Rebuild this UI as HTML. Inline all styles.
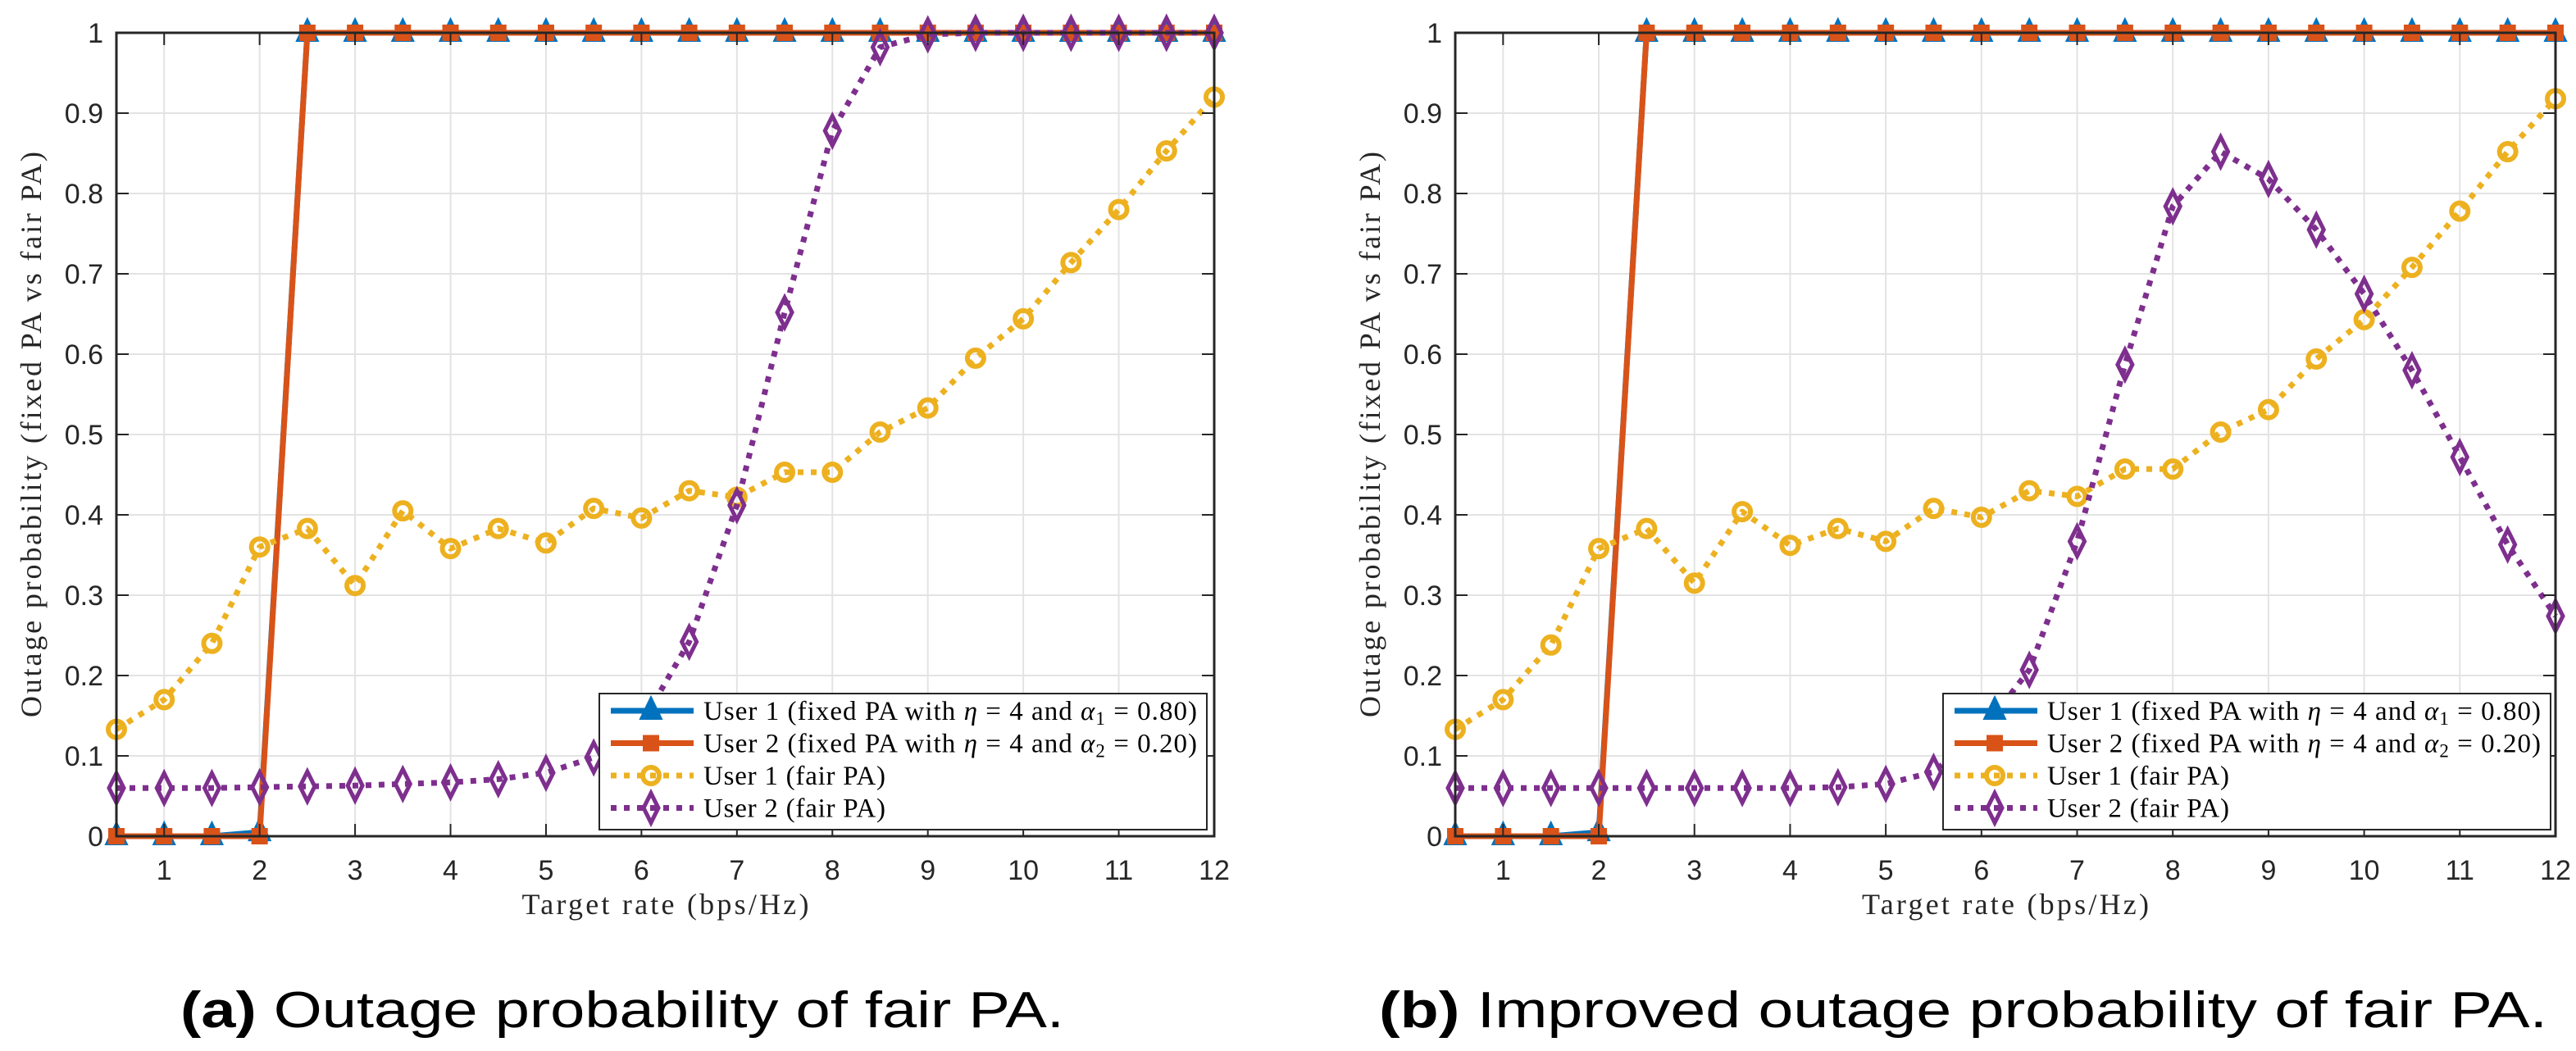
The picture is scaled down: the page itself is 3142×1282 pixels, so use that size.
<!DOCTYPE html>
<html><head><meta charset="utf-8"><style>
html,body{margin:0;padding:0;background:#fff;}
svg{display:block;}
</style></head><body>
<svg id="fig" width="3142" height="1282" viewBox="0 0 3142 1282" xmlns="http://www.w3.org/2000/svg"></svg>
<script>
const xValues = [0.5,1,1.5,2,2.5,3,3.5,4,4.5,5,5.5,6,6.5,7,7.5,8,8.5,9,9.5,10,10.5,11,11.5,12];
const xTicks = [1,2,3,4,5,6,7,8,9,10,11,12];
const yTicks = [0,0.1,0.2,0.3,0.4,0.5,0.6,0.7,0.8,0.9,1];
const yTickLabels = ["0","0.1","0.2","0.3","0.4","0.5","0.6","0.7","0.8","0.9","1"];
const aUser1Fixed = [0,0,0,0.005,1,1,1,1,1,1,1,1,1,1,1,1,1,1,1,1,1,1,1,1];
const aUser2Fixed = [0,0,0,0,1,1,1,1,1,1,1,1,1,1,1,1,1,1,1,1,1,1,1,1];
const aUser1Fair = [0.133,0.17,0.24,0.36,0.383,0.312,0.405,0.358,0.383,0.365,0.408,0.396,0.43,0.422,0.453,0.453,0.503,0.533,0.595,0.644,0.714,0.78,0.853,0.92];
const aUser2Fair = [0.06,0.06,0.06,0.061,0.062,0.063,0.065,0.067,0.071,0.079,0.098,0.14,0.242,0.412,0.652,0.878,0.982,0.998,1,1,1,1,1,1];
const bUser1Fixed = [0,0,0,0.005,1,1,1,1,1,1,1,1,1,1,1,1,1,1,1,1,1,1,1,1];
const bUser2Fixed = [0,0,0,0,1,1,1,1,1,1,1,1,1,1,1,1,1,1,1,1,1,1,1,1];
const bUser1Fair = [0.133,0.17,0.238,0.358,0.383,0.315,0.404,0.362,0.383,0.367,0.408,0.397,0.43,0.423,0.457,0.457,0.503,0.531,0.594,0.643,0.708,0.778,0.852,0.918];
const bUser2Fair = [0.06,0.06,0.06,0.06,0.06,0.06,0.06,0.06,0.061,0.065,0.08,0.13,0.207,0.367,0.587,0.784,0.852,0.818,0.755,0.675,0.58,0.472,0.363,0.274];
const captions = ["Outage probability of fair PA.","Improved outage probability of fair PA."];

const NS="http://www.w3.org/2000/svg";
const svg=document.getElementById('fig');
function mk(tag,attrs,parent){const e=document.createElementNS(NS,tag);for(const k in attrs)e.setAttribute(k,attrs[k]);(parent||svg).appendChild(e);return e;}
const BLUE="#0072BD",ORANGE="#D95319",YEL="#EDB120",PURP="#7E2F8E";
const SERIF='"Liberation Serif", serif', SANS='"Liberation Sans", sans-serif';

function marker(g,type,cx,cy,color){
  let m;
  if(type==='tri'){m=mk('polygon',{points:`${cx},${cy-17} ${cx-13},${cy+10} ${cx+13},${cy+10}`,fill:color,stroke:color,'stroke-width':2},g);}
  else if(type==='sq'){m=mk('rect',{x:cx-9,y:cy-9,width:18,height:18,fill:color,stroke:color,'stroke-width':2},g);}
  else if(type==='circ'){m=mk('circle',{cx:cx,cy:cy,r:10,fill:'none',stroke:color,'stroke-width':6},g);}
  else {m=mk('polygon',{points:`${cx},${cy-18} ${cx+9},${cy} ${cx},${cy+18} ${cx-9},${cy}`,fill:'none',stroke:color,'stroke-width':5},g);}
  return m;
}

function plot(idx,x0,x1,legX,series,capLeft,capLen,letter){
  const y1=40,y0=1020;
  const sx=v=>x0+(v-0.5)/11.5*(x1-x0);
  const sy=v=>y0-v*(y0-y1);
  const g=mk('g',{});
  
  
  xTicks.forEach(t=>{const l=mk('line',{x1:sx(t),x2:sx(t),y1:y1,y2:y0,stroke:'#e3e3e3','stroke-width':2},g);});
  yTicks.forEach(t=>{const l=mk('line',{x1:x0,x2:x1,y1:sy(t),y2:sy(t),stroke:'#e3e3e3','stroke-width':2},g);});
  series.forEach(s=>{
    const sg=mk('g',{},g);
    
    
    const pts=s.data.map((v,i)=>sx(xValues[i])+','+sy(v)).join(' ');
    const attrs={points:pts,fill:'none',stroke:s.color,'stroke-width':7,'stroke-linejoin':'round'};
    if(s.dot)attrs['stroke-dasharray']='7 9';
    mk('polyline',attrs,sg);
    s.data.forEach((v,i)=>{const m=marker(sg,s.mk,sx(xValues[i]),sy(v),s.color);});
  });
  const box=mk('rect',{x:x0,y:y1,width:x1-x0,height:y0-y1,fill:'none',stroke:'#262626','stroke-width':3},g);
  
  xTicks.forEach(t=>{
    mk('line',{x1:sx(t),x2:sx(t),y1:y0,y2:y0-15,stroke:'#262626','stroke-width':2},g);
    mk('line',{x1:sx(t),x2:sx(t),y1:y1,y2:y1+15,stroke:'#262626','stroke-width':2},g);
    const tx=mk('text',{x:sx(t),y:1073,'font-family':SANS,'font-size':34,'text-anchor':'middle',fill:'#262626'},g);
    tx.textContent=String(t);
    
  });
  yTicks.forEach((t,i)=>{
    mk('line',{x1:x0,x2:x0+15,y1:sy(t),y2:sy(t),stroke:'#262626','stroke-width':2},g);
    mk('line',{x1:x1,x2:x1-15,y1:sy(t),y2:sy(t),stroke:'#262626','stroke-width':2},g);
    const tx=mk('text',{x:x0-16,y:sy(t)+12,'font-family':SANS,'font-size':34,'text-anchor':'end',fill:'#262626'},g);
    tx.textContent=yTickLabels[i];
    
  });
  const xt=mk('text',{x:(x0+x1)/2,y:1115,'font-family':SERIF,'font-size':36,'text-anchor':'middle',fill:'#262626',textLength:350,lengthAdjust:'spacing'},g);
  xt.textContent='Target rate (bps/Hz)';
  
  const yt=mk('text',{x:0,y:0,'font-family':SERIF,'font-size':36,'text-anchor':'middle',fill:'#262626',transform:`translate(${x0-92},${(y0+y1)/2}) rotate(-90)`,textLength:690,lengthAdjust:'spacing'},g);
  yt.textContent='Outage probability (fixed PA vs fair PA)';
  
  const lg=mk('g',{},g);
  
  mk('rect',{x:legX,y:846,width:741,height:166,fill:'#fff',stroke:'#262626','stroke-width':2},lg);
  const labels=[['User 1 (fixed PA with ','1','0.80)'],['User 2 (fixed PA with ','2','0.20)'],['User 1 (fair PA)'],['User 2 (fair PA)']];
  series.forEach((s,i)=>{
    const ey=867+i*39.5;
    const eg=mk('g',{},lg);
    
    const la={x1:legX+14,x2:legX+115,y1:ey,y2:ey,stroke:s.color,'stroke-width':7};
    if(s.dot)la['stroke-dasharray']='7 9';
    mk('line',la,eg);
    marker(eg,s.mk,legX+63,ey,s.color);
    const L=labels[i];
    const t=mk('text',{x:legX+127,y:ey+11,'font-family':SERIF,'font-size':33,fill:'#000',textLength:L.length===1?222:602,lengthAdjust:'spacing'},eg);
    if(L.length===1){t.textContent=L[0];}
    else{
      const a=mk('tspan',{},t);a.textContent=L[0];
      const e=mk('tspan',{'font-style':'italic'},t);e.textContent='η';
      const b=mk('tspan',{},t);b.textContent=' = 4 and ';
      const al=mk('tspan',{'font-style':'italic'},t);al.textContent='α';
      const sub=mk('tspan',{'font-size':23,dy:6},t);sub.textContent=L[1];
      const c=mk('tspan',{dy:-6},t);c.textContent=' = '+L[2];
    }
  });
  const cap=mk('text',{x:capLeft,y:1253,'font-family':SANS,'font-size':62,fill:'#000',textLength:capLen,lengthAdjust:'spacingAndGlyphs'},svg);
  
  const bl=mk('tspan',{'font-weight':'bold'},cap);bl.textContent='('+letter+') ';
  const rest=mk('tspan',{},cap);rest.textContent=captions[idx];
}

plot(0,142,1481,731,[
  {name:'user1-fixed-pa',data:aUser1Fixed,color:BLUE,mk:'tri',dot:false},
  {name:'user2-fixed-pa',data:aUser2Fixed,color:ORANGE,mk:'sq',dot:false},
  {name:'user1-fair-pa',data:aUser1Fair,color:YEL,mk:'circ',dot:true},
  {name:'user2-fair-pa',data:aUser2Fair,color:PURP,mk:'dia',dot:true}
],220,1078,'a');
plot(1,1775,3117,2370,[
  {name:'user1-fixed-pa',data:bUser1Fixed,color:BLUE,mk:'tri',dot:false},
  {name:'user2-fixed-pa',data:bUser2Fixed,color:ORANGE,mk:'sq',dot:false},
  {name:'user1-fair-pa',data:bUser1Fair,color:YEL,mk:'circ',dot:true},
  {name:'user2-fair-pa',data:bUser2Fair,color:PURP,mk:'dia',dot:true}
],1682,1425,'b');
</script>
</body></html>
